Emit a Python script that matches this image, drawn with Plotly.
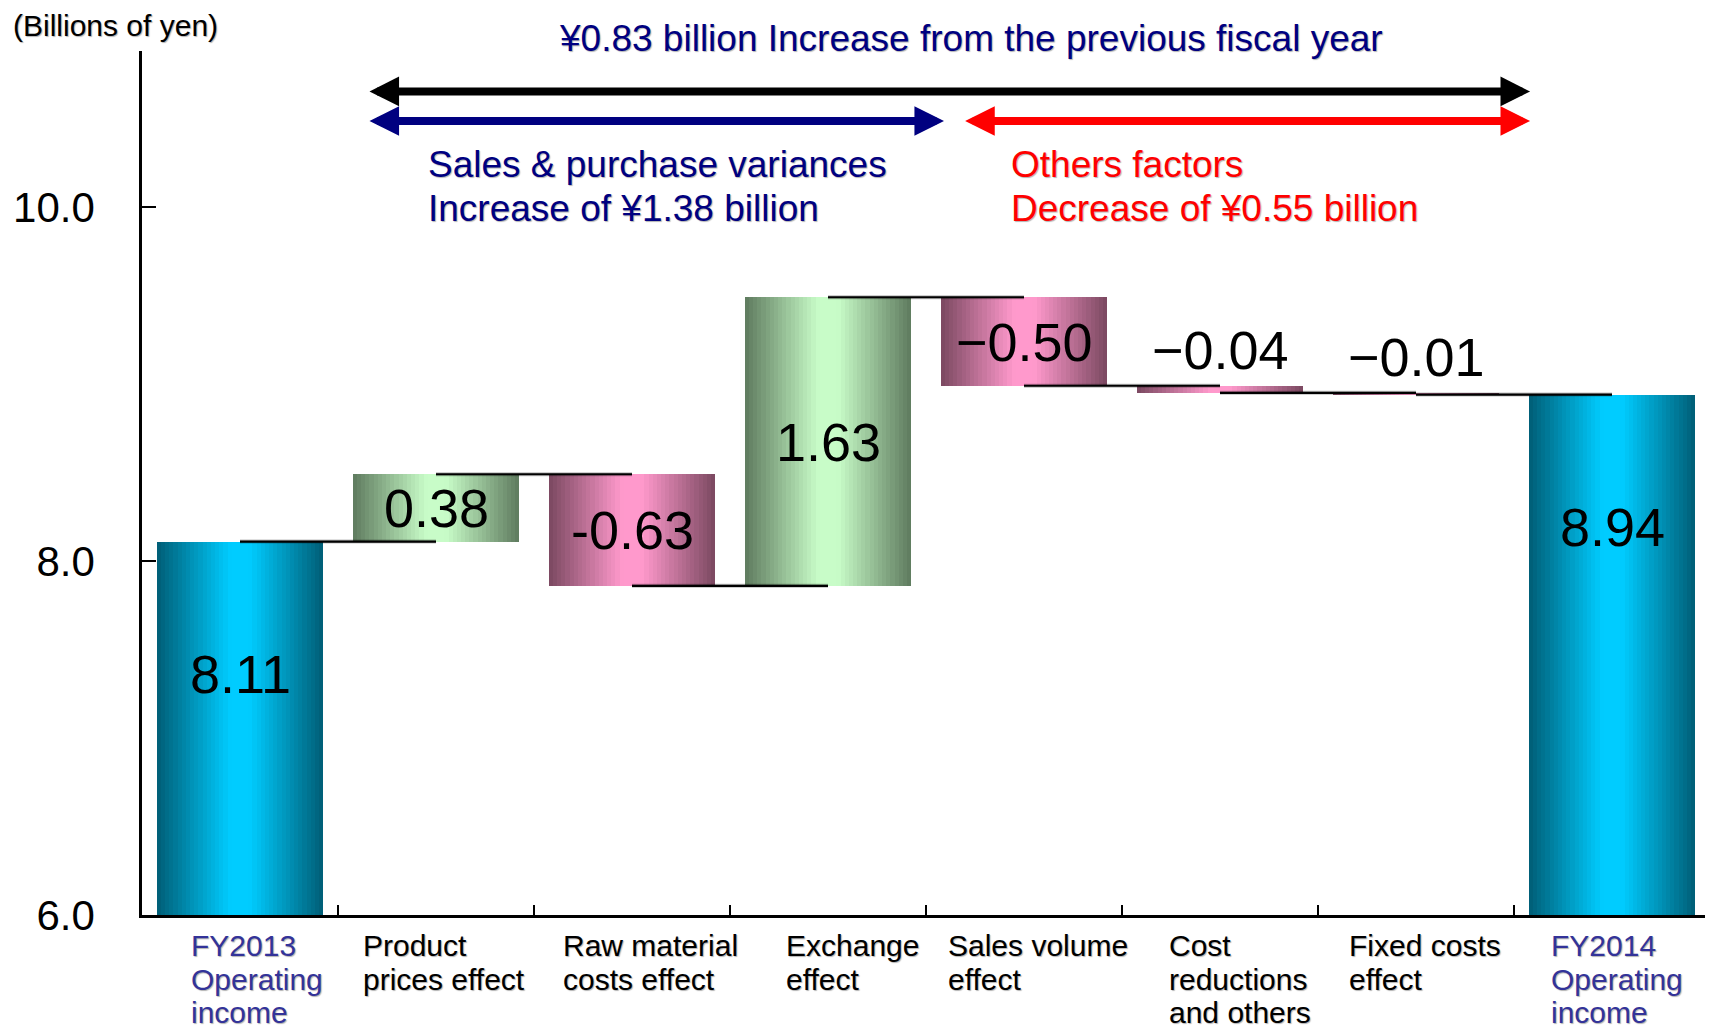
import plotly.graph_objects as go

# ---------------- data ----------------
cat_keys = ["FY2013", "Product", "Raw", "Exchange", "SalesVol", "Cost", "Fixed", "FY2014"]
tick_lines = [
    ["FY2013", "Operating", "income"],
    ["Product", "prices effect"],
    ["Raw material", "costs effect"],
    ["Exchange", "effect"],
    ["Sales volume", "effect"],
    ["Cost", "reductions", "and others"],
    ["Fixed costs", "effect"],
    ["FY2014", "Operating", "income"],
]
values = [8.11, 0.38, -0.63, 1.63, -0.50, -0.04, -0.01, 8.94]
kinds = ["total", "delta", "delta", "delta", "delta", "delta", "delta", "total"]
value_labels = ["8.11", "0.38", "-0.63", "1.63", "\u22120.50", "\u22120.04", "\u22120.01", "8.94"]
y_ticks = [6.0, 8.0, 10.0]
y_tick_labels = ["6.0", "8.0", "10.0"]
unit_label = "(Billions of yen)"
total_text = "\u00a50.83 billion Increase from the previous fiscal year"
group1_text = ["Sales & purchase variances", "Increase of \u00a51.38 billion"]
group2_text = ["Others factors", "Decrease of \u00a50.55 billion"]

# ---------------- layout constants (not data) ----------------
label_left_px = [-51, -75, -71, -44, -78, -53, -69, -63]  # left edge of label block vs category centre

# ---------------- derived geometry ----------------
bases, heights, levels = [], [], []
running = 0.0
for v, k in zip(values, kinds):
    if k == "total":
        bases.append(0.0)
        heights.append(v)
        running = v
    else:
        bases.append(running if v >= 0 else running + v)
        heights.append(abs(v))
        running += v
    levels.append(running)

FONT = "Liberation Sans, Arial, sans-serif"
BLUE_D, BLUE_L = (0, 93, 117), (0, 204, 255)
GREEN_D, GREEN_L = (94, 122, 94), (200, 252, 200)
PINK_D, PINK_L = (122, 72, 96), (255, 153, 204)


def pal(i):
    if kinds[i] == "total":
        return BLUE_D, BLUE_L
    return (GREEN_D, GREEN_L) if values[i] >= 0 else (PINK_D, PINK_L)


def lerp(a, b, s):
    return "rgb(%d,%d,%d)" % tuple(round(a[j] + (b[j] - a[j]) * s) for j in range(3))


def profile(t):
    d = abs(t - 0.5)
    s = 1 - max(0.0, d - 0.06) / 0.44
    return max(0.0, min(1.0, s))


fig = go.Figure()

W = 0.85
N = 40
sw = W / N
for k in range(N):
    t = (k + 0.5) / N
    s = profile(t)
    cols = [lerp(*pal(i), s) for i in range(len(values))]
    fig.add_trace(go.Bar(
        x=cat_keys, y=heights, base=bases,
        offset=-W / 2 + k * sw, width=sw + (0.004 if k < N - 1 else 0),
        marker=dict(color=cols, line=dict(width=0)),
        showlegend=False, hoverinfo="skip",
    ))

# connectors from bar centre to next bar centre
cx, cy = [], []
for i in range(len(values) - 1):
    cx += [cat_keys[i], cat_keys[i + 1], None]
    cy += [levels[i], levels[i], None]
fig.add_trace(go.Scatter(x=cx, y=cy, mode="lines",
                         line=dict(color="rgba(0,0,0,0.25)", width=4),
                         showlegend=False, hoverinfo="skip"))
fig.add_trace(go.Scatter(x=cx, y=cy, mode="lines",
                         line=dict(color="black", width=2.2),
                         showlegend=False, hoverinfo="skip"))

shadow = "1px 1px 1px rgba(0,0,0,0.3)"
ann = []

# value labels
for i, (lab, k) in enumerate(zip(value_labels, kinds)):
    top = bases[i] + heights[i]
    if k == "total":
        yv = top - 0.75
    elif heights[i] < 0.1:
        yv = top + 0.2
    else:
        yv = bases[i] + heights[i] / 2
    ann.append(dict(x=cat_keys[i], y=yv, xref="x", yref="y", text=lab, showarrow=False,
                    font=dict(family=FONT, size=54, color="black"),
                    xanchor="center", yanchor="middle"))

# category labels (left-aligned blocks)
XF = 30
for i, lines in enumerate(tick_lines):
    col = "#333399" if kinds[i] == "total" else "black"
    for j, ln in enumerate(lines):
        ann.append(dict(x=cat_keys[i], y=0, xref="x", yref="paper", text=ln, showarrow=False,
                        font=dict(family=FONT, size=XF, color=col, shadow=shadow),
                        xanchor="left", yanchor="middle",
                        xshift=label_left_px[i], yshift=-(30.5 + 33.6 * j)))

# arrows (category index coordinates)
arrows = [(0.653, 6.582, 10.653, "black"), (0.653, 3.592, 10.486, "#000080"),
          (3.692, 6.582, 10.486, "#ff0000")]
for x0, x1, yv, c in arrows:
    ann.append(dict(x=x1, y=yv, ax=x0, ay=yv, xref="x", yref="y", axref="x", ayref="y",
                    text="", showarrow=True, arrowside="end+start", arrowhead=2,
                    arrowsize=0.74, arrowwidth=8, arrowcolor=c, standoff=0, startstandoff=0))

# texts
ann.append(dict(x=-0.0835, y=1.029, xref="paper", yref="paper", text=unit_label,
                showarrow=False, xanchor="left", yanchor="middle",
                font=dict(family=FONT, size=30, color="black", shadow=shadow)))
ann.append(dict(x=0.529, y=1.0139, xref="paper", yref="paper", text=total_text,
                showarrow=False, xanchor="center", yanchor="middle",
                font=dict(family=FONT, size=37, color="#000080", shadow=shadow)))
for j, txt in enumerate(group1_text):
    ann.append(dict(x=0.1811, y=0.8681 - 0.0509 * j, xref="paper", yref="paper", text=txt,
                    showarrow=False, xanchor="left", yanchor="middle",
                    font=dict(family=FONT, size=37, color="#000080", shadow=shadow)))
for j, txt in enumerate(group2_text):
    ann.append(dict(x=0.5529, y=0.8681 - 0.0509 * j, xref="paper", yref="paper", text=txt,
                    showarrow=False, xanchor="left", yanchor="middle",
                    font=dict(family=FONT, size=37, color="#ff0000", shadow=shadow)))

# page body has an 8px margin: shrink the figure so the plot lands where it should
fig.update_layout(
    width=1705, height=1022,
    margin=dict(l=134, r=3, t=43, b=115),
    paper_bgcolor="white", plot_bgcolor="white",
    barmode="overlay", bargap=0,
    annotations=ann,
    xaxis=dict(type="category", categoryorder="array", categoryarray=cat_keys,
               range=[-0.5, len(cat_keys) - 0.5], showgrid=False, zeroline=False,
               showline=True, linecolor="black", linewidth=2.5,
               ticks="inside", tickson="boundaries", ticklen=10, tickwidth=2, tickcolor="black",
               showticklabels=False),
    yaxis=dict(range=[6, 6 + 864 / 177], tickvals=y_ticks, ticktext=y_tick_labels,
               showgrid=False, zeroline=False, showline=True, linecolor="black", linewidth=2.5,
               ticks="inside", ticklen=14, tickwidth=2, tickcolor="black",
               ticklabelstandoff=36,
               tickfont=dict(family=FONT, size=42, color="black")),
)

fig.write_html("out.html")
